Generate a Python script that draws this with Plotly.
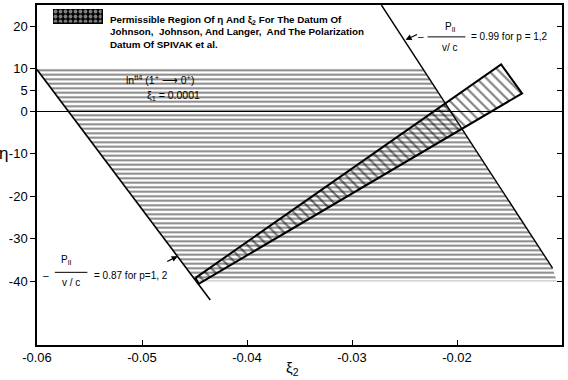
import plotly.graph_objects as go

# ---- data ----
# permissible (horizontally hatched) region of eta vs xi2
region_xi2 = [-0.0600, -0.0233, -0.0109, -0.0105, -0.0448, -0.0600]
region_eta = [10.0, 10.0, -36.9, -40.0, -40.0, 10.0]

# cross-hatched band (Johnson, Johnson & Langer + Spivak datum)
band_xi2 = [-0.0449, -0.0158, -0.0138, -0.0446, -0.0449]
band_eta = [-39.2, 11.0, 4.2, -40.6, -39.2]

# boundary lines P||/(v/c)
line087_xi2 = [-0.0600, -0.0435]
line087_eta = [9.8, -44.4]
line099_xi2 = [-0.0272, -0.0109]
line099_eta = [25.0, -36.9]

# legend key value
legend_key = [1]

x_tickvals = [-0.06, -0.05, -0.04, -0.03, -0.02, -0.01]
x_ticktext = ["-0.06", "-0.05", "-0.04", "-0.03", "-0.02", "-0.01"]
y_tickvals = [20, 10, 5, 0, -10, -20, -30, -40]
y_ticktext = ["20", "10", "5", "0", "-10", "-20", "-30", "-40"]

legend_lines = [
    "Permissible Region Of η And ξ<sub>2</sub> For The Datum Of",
    "Johnson,  Johnson, And Langer,  And The Polarization",
    "Datum Of SPIVAK et al.",
]

FONT = "Liberation Sans Narrow, Arial Narrow, sans-serif"

fig = go.Figure()

fig.add_trace(go.Scatter(
    x=region_xi2, y=region_eta, mode="lines", fill="toself",
    line=dict(width=0, color="rgba(0,0,0,0)"),
    fillcolor="rgba(0,0,0,0)",
    fillpattern=dict(shape="-", fgcolor="black", bgcolor="rgba(0,0,0,0)",
                     size=4.5, solidity=0.42),
    showlegend=False, hoverinfo="skip"))

fig.add_trace(go.Scatter(
    x=band_xi2, y=band_eta, mode="lines", fill="toself",
    line=dict(width=2, color="black"),
    fillcolor="rgba(0,0,0,0)",
    fillpattern=dict(shape="\\", fgcolor="black", bgcolor="rgba(0,0,0,0)",
                     size=7, solidity=0.3),
    showlegend=False, hoverinfo="skip"))

fig.add_trace(go.Scatter(x=line087_xi2, y=line087_eta, mode="lines",
                         line=dict(color="black", width=1.6),
                         showlegend=False, hoverinfo="skip"))
fig.add_trace(go.Scatter(x=line099_xi2, y=line099_eta, mode="lines",
                         line=dict(color="black", width=1.4),
                         showlegend=False, hoverinfo="skip"))
# invisible trace to attach the right-hand y axis (inside ticks)
fig.add_trace(go.Scatter(x=[None], y=[None], yaxis="y2", showlegend=False,
                         hoverinfo="skip"))
# legend key swatch on its own small axes
fig.add_trace(go.Bar(x=[0], y=legend_key, width=[1], xaxis="x3", yaxis="y3",
                     marker=dict(color="black",
                                 line=dict(color="black", width=1.5),
                                 pattern=dict(shape=".", fgcolor="white",
                                              bgcolor="black", size=5,
                                              solidity=0.45)),
                     showlegend=False, hoverinfo="skip"))

ann_font = dict(family=FONT, size=10, color="black")
annotations = [
    # upper-left expression
    dict(x=-0.0483, y=7.5, text="ln<sup>tt4</sup> (1<sup>+</sup> ⟶ 0<sup>+</sup>)",
         font=dict(family=FONT, size=10.5, color="black")),
    dict(x=-0.0470, y=3.6, text="ξ<sub>1</sub> = 0.0001",
         font=dict(family=FONT, size=10.5, color="black")),
    # upper-right label
    dict(x=-0.0234, y=17.5, text="–"),
    dict(x=-0.0206, y=19.8, text="P<sub>II</sub>"),
    dict(x=-0.0207, y=15.1, text="v/ c"),
    dict(x=-0.0189, y=17.5, text="= 0.99 for p = 1,2", xanchor="left"),
    # lower-left label
    dict(x=-0.0591, y=-38.6, text="–"),
    dict(x=-0.0572, y=-35.0, text="P<sub>II</sub>"),
    dict(x=-0.0568, y=-40.3, text="v / c"),
    dict(x=-0.0548, y=-38.6, text="= 0.87 for p=1, 2", xanchor="left"),
]
for a in annotations:
    a.setdefault("xanchor", "center")
    a.setdefault("font", ann_font)
    fig.add_annotation(xref="x", yref="y", showarrow=False,
                       yanchor="middle", **a)

# legend text
for line, ypos in zip(legend_lines, [0.956, 0.921, 0.883]):
    fig.add_annotation(x=0.135, y=ypos, xref="paper", yref="paper",
                       text="<b>" + line + "</b>", showarrow=False,
                       xanchor="left", yanchor="middle",
                       font=dict(family=FONT, size=9.8, color="black"))

# arrows pointing to the boundary lines
fig.add_annotation(x=-0.0249, y=16.8, xref="x", yref="y", text="", showarrow=True,
                   ax=13, ay=-6, arrowhead=2, arrowsize=1, arrowwidth=1.2,
                   arrowcolor="black")
fig.add_annotation(x=-0.0466, y=-34.1, xref="x", yref="y", text="", showarrow=True,
                   ax=-12, ay=6, arrowhead=2, arrowsize=1, arrowwidth=1.2,
                   arrowcolor="black")

# axis titles
fig.add_annotation(x=-0.063, y=-10, xref="paper", yref="y", text="η",
                   showarrow=False, xanchor="center", yanchor="middle",
                   font=dict(family=FONT, size=17, color="black"))
fig.add_annotation(x=0.486, y=-0.068, xref="paper", yref="paper",
                   text="ξ<sub>2</sub>", showarrow=False,
                   xanchor="center", yanchor="middle",
                   font=dict(family=FONT, size=15, color="black"))

# fraction bars
fig.add_shape(type="line", xref="x", yref="y", x0=-0.0228, x1=-0.0192,
              y0=17.5, y1=17.5, line=dict(color="black", width=1))
fig.add_shape(type="line", xref="x", yref="y", x0=-0.0583, x1=-0.0552,
              y0=-37.9, y1=-37.9, line=dict(color="black", width=1))

fig.update_layout(
    width=568, height=380,
    margin=dict(l=37, r=6, t=3, b=35),
    paper_bgcolor="white", plot_bgcolor="white",
    font=dict(family=FONT, size=12, color="black"),
    showlegend=False,
    bargap=0,
    xaxis=dict(range=[-0.06, -0.01], tickvals=x_tickvals, ticktext=x_ticktext,
               ticks="inside", ticklen=5, tickwidth=1, tickcolor="black",
               showline=True, linecolor="black", linewidth=1.5, mirror=True,
               showgrid=False, zeroline=False,
               tickfont=dict(family=FONT, size=13)),
    yaxis=dict(range=[-55, 25], tickvals=y_tickvals, ticktext=y_ticktext,
               ticks="outside", ticklen=5, tickwidth=1, tickcolor="black",
               showline=True, linecolor="black", linewidth=1.5, mirror=True,
               showgrid=False, zeroline=True, zerolinecolor="black",
               zerolinewidth=1, tickfont=dict(family=FONT, size=13)),
    yaxis2=dict(range=[-55, 25], overlaying="y", side="right",
                tickvals=y_tickvals, showticklabels=False,
                ticks="inside", ticklen=5, tickwidth=1, tickcolor="black",
                showline=False, showgrid=False, zeroline=False),
    xaxis3=dict(domain=[0.0305, 0.1257], anchor="y3", range=[-0.5, 0.5],
                visible=False, fixedrange=True),
    yaxis3=dict(domain=[0.944, 0.988], anchor="x3", range=[0, 1],
                visible=False, fixedrange=True),
)

fig.write_html("out.html")
